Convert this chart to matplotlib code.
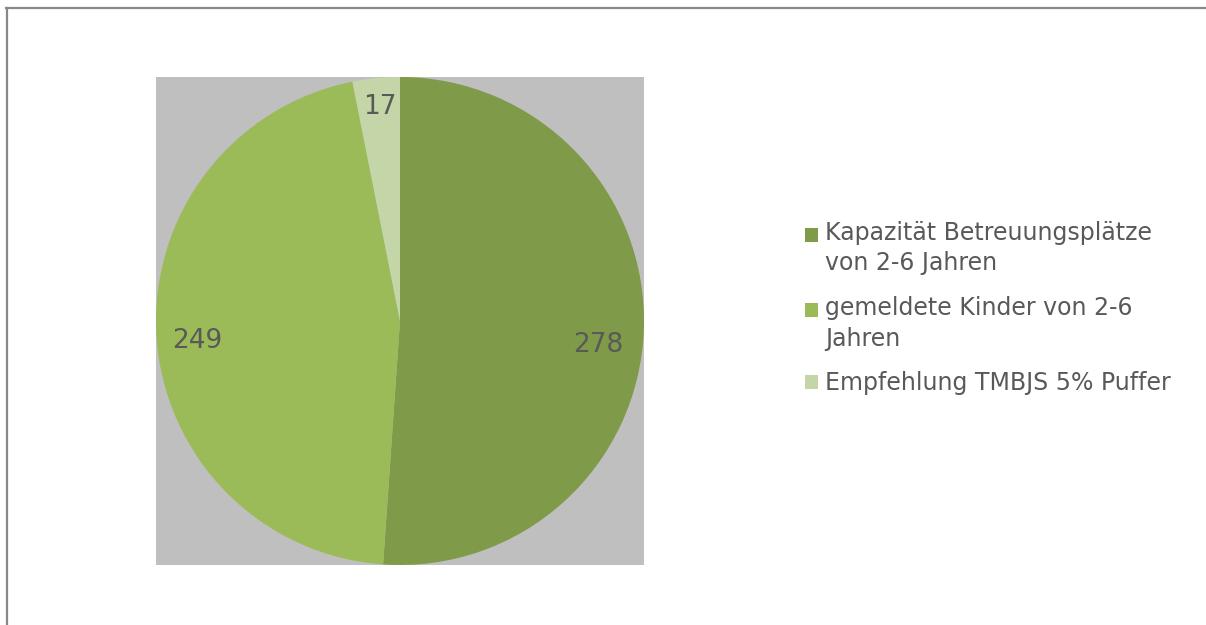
import numpy as np
import matplotlib
matplotlib.use("Agg")
import matplotlib.pyplot as plt
from matplotlib.lines import Line2D

categories = ["Kapazität Betreuungsplätze\nvon 2-6 Jahren",
              "gemeldete Kinder von 2-6\nJahren",
              "Empfehlung TMBJS 5% Puffer"]
values = [278, 249, 17]
colors = ["#7F9A48", "#9BBB59", "#C4D6A7"]
label_dist = [0.82, 0.835, 0.88]
label_angle_shift = [-4.8, 2.1, -0.3]
text_color = "#595959"

W, H = 1206, 625
fig = plt.figure(figsize=(W / 100, H / 100), dpi=100)
fig.patch.set_facecolor("white")

ax = fig.add_axes([156 / W, 1 - 565 / H, 488 / W, 488 / H])
ax.set_facecolor("#BFBFBF")
wedges, _ = ax.pie(values, colors=colors, startangle=90, counterclock=False,
                   radius=1, center=(0, 0), frame=True,
                   wedgeprops=dict(linewidth=0))
ax.set_xlim(-1, 1)
ax.set_ylim(-1, 1)
ax.set_xticks([])
ax.set_yticks([])
for s in ax.spines.values():
    s.set_visible(False)

for w, v, d, da in zip(wedges, values, label_dist, label_angle_shift):
    ang = np.deg2rad((w.theta1 + w.theta2) / 2 + da)
    ax.text(d * np.cos(ang), d * np.sin(ang), str(v), ha="center", va="center",
            fontsize=19, color=text_color)

fs = 17
leg = fig.legend(wedges, categories, loc="upper left",
                 bbox_to_anchor=(805 / W, 1 - 221 / H), frameon=False,
                 fontsize=fs, labelcolor=text_color, handlelength=0.56,
                 handleheight=0.58, handletextpad=0.28, labelspacing=0.88,
                 borderpad=0, borderaxespad=0)
line_step_pt = 29 * 72 / 100
for t, h in zip(leg.get_texts(), leg.legend_handles):
    t.set_linespacing(1.34)
    nlines = t.get_text().count("\n") + 1
    if nlines > 1:
        h.set_y(h.get_y() + (nlines - 1) * line_step_pt / 2)

# outer chart border (left and top edges visible)
fig.add_artist(Line2D([6.5 / W, 6.5 / W], [0, 1 - 8 / H], color="#888888", lw=1.6,
                      transform=fig.transFigure))
fig.add_artist(Line2D([6 / W, 1], [1 - 8 / H, 1 - 8 / H], color="#888888", lw=1.6,
                      transform=fig.transFigure))

fig.savefig("out.png", dpi=100)
